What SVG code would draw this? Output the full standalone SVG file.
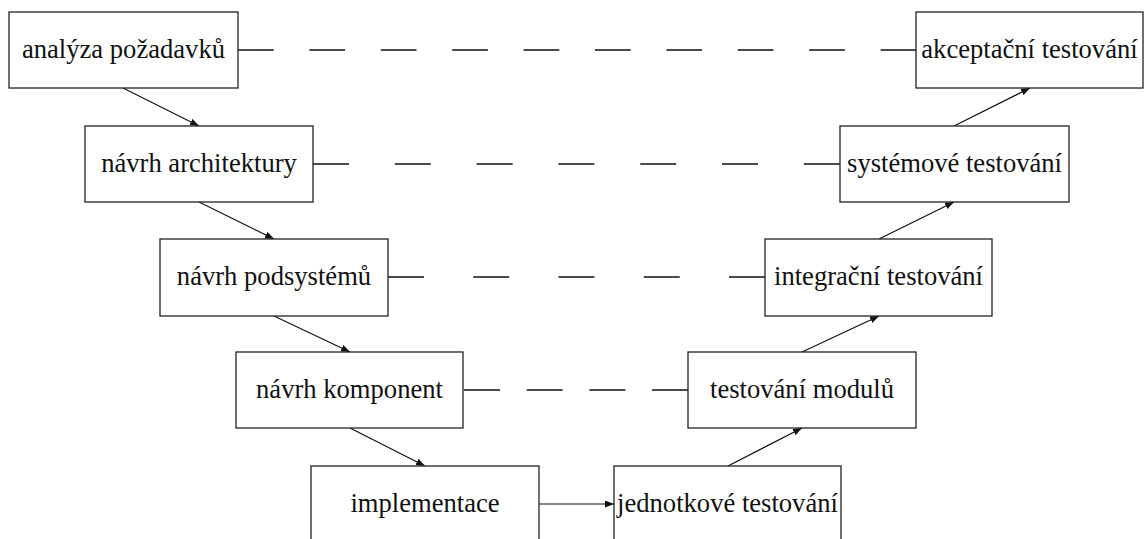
<svg xmlns="http://www.w3.org/2000/svg" width="1144" height="539" viewBox="0 0 1144 539">
<defs>
<marker id="ah" markerUnits="userSpaceOnUse" markerWidth="10" markerHeight="8" refX="9" refY="3.5" orient="auto">
<path d="M0,0 L9,3.5 L0,7 Z" fill="#111"/>
</marker>
<style>
.box{fill:#fff;stroke:#222;stroke-width:1.3}
.lbl{font-family:"Liberation Serif","DejaVu Serif",serif;font-size:26.6px;fill:#111;text-anchor:middle}
.arr{stroke:#111;stroke-width:1.2;fill:none;marker-end:url(#ah)}
.dash{stroke:#111;stroke-width:1.3;fill:none}
</style>
</defs>
<rect width="1144" height="539" fill="#fff"/>
<g id="connectors">
<line class="dash" x1="238" y1="50" x2="916" y2="50" stroke-dasharray="35.7 35.7"/>
<line class="dash" x1="313" y1="164" x2="840" y2="164" stroke-dasharray="36 45.8"/>
<line class="dash" x1="388" y1="277" x2="765" y2="277" stroke-dasharray="36 49.25"/>
<line class="dash" x1="464" y1="390" x2="688" y2="390" stroke-dasharray="36 26.7"/>
<line class="arr" x1="123" y1="88" x2="199" y2="126"/>
<line class="arr" x1="199" y1="202" x2="274" y2="239"/>
<line class="arr" x1="274" y1="316" x2="350" y2="352"/>
<line class="arr" x1="350" y1="428" x2="425" y2="466"/>
<line class="arr" x1="539" y1="504" x2="614" y2="504"/>
<line class="arr" x1="728" y1="466" x2="802" y2="428"/>
<line class="arr" x1="802" y1="352" x2="879" y2="316"/>
<line class="arr" x1="879" y1="239" x2="954" y2="202"/>
<line class="arr" x1="954" y1="126" x2="1030" y2="88"/>
</g>
<g id="analyza"><rect class="box" x="9" y="12" width="229" height="76"/><text class="lbl" x="123.5" y="57.5">analýza požadavků</text></g>
<g id="architektura"><rect class="box" x="85" y="126" width="228" height="76"/><text class="lbl" x="199" y="171.5">návrh architektury</text></g>
<g id="podsystemy"><rect class="box" x="160" y="239" width="228" height="77"/><text class="lbl" x="274" y="284.5">návrh podsystémů</text></g>
<g id="komponenty"><rect class="box" x="236" y="352" width="227" height="76"/><text class="lbl" x="349.5" y="397.5">návrh komponent</text></g>
<g id="implementace"><rect class="box" x="311" y="466" width="228" height="80"/><text class="lbl" x="425" y="511.5">implementace</text></g>
<g id="jednotkove"><rect class="box" x="614" y="466" width="227" height="80"/><text class="lbl" x="727.5" y="511.5">jednotkové testování</text></g>
<g id="moduly"><rect class="box" x="688" y="352" width="228" height="76"/><text class="lbl" x="802" y="397.5">testování modulů</text></g>
<g id="integracni"><rect class="box" x="765" y="239" width="227" height="77"/><text class="lbl" x="878.5" y="284.5">integrační testování</text></g>
<g id="systemove"><rect class="box" x="840" y="126" width="229" height="76"/><text class="lbl" x="954.5" y="171.5">systémové testování</text></g>
<g id="akceptacni"><rect class="box" x="916" y="12" width="227" height="76"/><text class="lbl" x="1029.5" y="57.5">akceptační testování</text></g>
</svg>
